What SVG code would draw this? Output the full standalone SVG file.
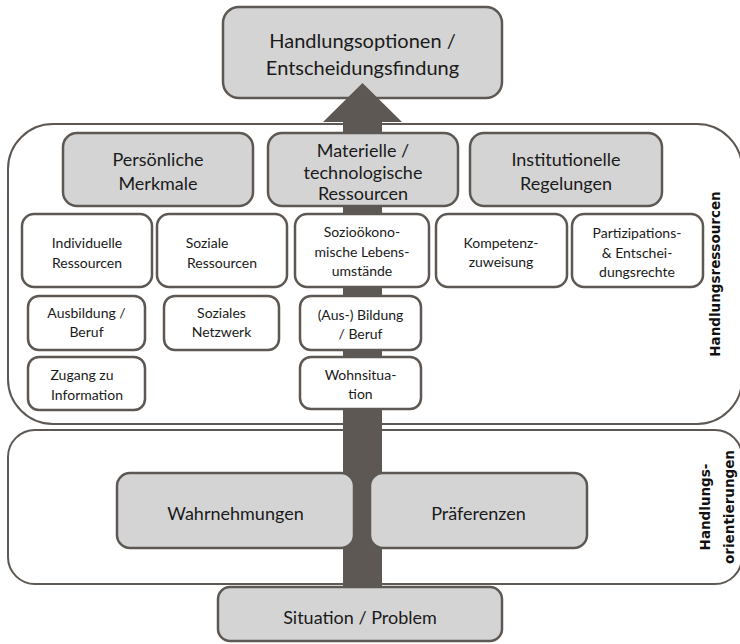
<svg xmlns="http://www.w3.org/2000/svg" width="740" height="644" viewBox="0 0 740 644">
<style>
.outer{fill:#ffffff;stroke:#5d5853;stroke-width:2}
.hdr{fill:#d4d4d4;stroke:#5d5853;stroke-width:2.5}
.sm{fill:#ffffff;stroke:#5d5853;stroke-width:2.5}
text{font-family:Lato,"Liberation Sans",sans-serif;fill:#1a1a1a;text-anchor:middle}
.t20{font-size:20px}
.t18{font-size:18px}
.t14{font-size:14px}
.side{font-family:"DejaVu Sans",sans-serif;font-weight:bold;font-size:13.5px;fill:#111}
.arrow{fill:#5d5853}
</style>
<rect width="740" height="644" fill="#ffffff"/>
<g id="handlungsressourcen">
<rect class="outer" x="8" y="124" width="734" height="300" rx="45" ry="45"/>
<text class="side" transform="translate(720,274) rotate(-90)">Handlungsressourcen</text>
</g>
<g id="handlungsorientierungen">
<rect class="outer" x="8" y="430" width="734" height="154" rx="27" ry="27"/>
<text class="side" transform="translate(710,507) rotate(-90)">Handlungs-</text>
<text class="side" transform="translate(734,507) rotate(-90)">orientierungen</text>
</g>
<g id="handlungsoptionen">
<rect class="hdr" x="223" y="7" width="279" height="91" rx="16" ry="16"/>
<text class="t20" x="362.5" y="48">Handlungsoptionen /</text>
<text class="t20" x="362.5" y="75">Entscheidungsfindung</text>
</g>
<g id="connectors">
<path class="arrow" d="M362.5,83 L402,122 L382,122 L382,587 L343,587 L343,122 L323,122 Z"/>
</g>
<g id="materielle">
<rect class="hdr" x="268" y="133" width="190" height="73" rx="14" ry="14"/>
<text class="t18" x="363" y="157">Materielle /</text>
<text class="t18" x="363" y="178.5">technologische</text>
<text class="t18" x="363" y="200">Ressourcen</text>
</g>
<g id="persoenliche">
<rect class="hdr" x="63" y="133" width="190" height="73" rx="14" ry="14"/>
<text class="t18" x="158" y="165.5">Persönliche</text>
<text class="t18" x="158" y="190">Merkmale</text>
</g>
<g id="institutionelle">
<rect class="hdr" x="470" y="133" width="192" height="73" rx="14" ry="14"/>
<text class="t18" x="566" y="165.5">Institutionelle</text>
<text class="t18" x="566" y="190">Regelungen</text>
</g>
<g id="individuelle">
<rect class="sm" x="22" y="214" width="130" height="73" rx="12" ry="12"/>
<text class="t14" x="87" y="248">Individuelle</text>
<text class="t14" x="87" y="268">Ressourcen</text>
</g>
<g id="soziale">
<rect class="sm" x="157" y="214" width="130" height="73" rx="12" ry="12"/>
<text class="t14" x="207" y="248">Soziale</text>
<text class="t14" x="222" y="268">Ressourcen</text>
</g>
<g id="soziooekonomische">
<rect class="sm" x="295" y="214" width="134" height="73" rx="12" ry="12"/>
<text class="t14" x="362" y="237">Sozioökono-</text>
<text class="t14" x="362" y="257">mische Lebens-</text>
<text class="t14" x="362" y="276">umstände</text>
</g>
<g id="kompetenz">
<rect class="sm" x="436" y="214" width="131" height="73" rx="12" ry="12"/>
<text class="t14" x="501" y="248">Kompetenz-</text>
<text class="t14" x="501" y="267">zuweisung</text>
</g>
<g id="partizipation">
<rect class="sm" x="572" y="214" width="131" height="73" rx="12" ry="12"/>
<text class="t14" x="637" y="238">Partizipations-</text>
<text class="t14" x="637" y="258">&amp; Entschei-</text>
<text class="t14" x="637" y="277">dungsrechte</text>
</g>
<g id="ausbildung">
<rect class="sm" x="28" y="296" width="117" height="54" rx="11" ry="11"/>
<text class="t14" x="86.5" y="318">Ausbildung /</text>
<text class="t14" x="86.5" y="337">Beruf</text>
</g>
<g id="netzwerk">
<rect class="sm" x="164" y="296" width="115" height="54" rx="11" ry="11"/>
<text class="t14" x="221.5" y="318">Soziales</text>
<text class="t14" x="221.5" y="337">Netzwerk</text>
</g>
<g id="bildung">
<rect class="sm" x="300" y="296" width="121" height="54" rx="11" ry="11"/>
<text class="t14" x="360.5" y="320">(Aus-) Bildung</text>
<text class="t14" x="360.5" y="339">/ Beruf</text>
</g>
<g id="zugang">
<rect class="sm" x="28" y="357" width="117" height="53" rx="11" ry="11"/>
<text class="t14" x="82" y="380">Zugang zu</text>
<text class="t14" x="87" y="400">Information</text>
</g>
<g id="wohnsituation">
<rect class="sm" x="300" y="357" width="121" height="52" rx="11" ry="11"/>
<text class="t14" x="360.5" y="380">Wohnsitua-</text>
<text class="t14" x="360.5" y="399">tion</text>
</g>
<g id="wahrnehmungen">
<rect class="hdr" x="117" y="473" width="237" height="75" rx="13" ry="13"/>
<text class="t18" x="235.5" y="520">Wahrnehmungen</text>
</g>
<g id="praeferenzen">
<rect class="hdr" x="370" y="473" width="217" height="75" rx="13" ry="13"/>
<text class="t18" x="478.5" y="520">Präferenzen</text>
</g>
<g id="situation">
<rect class="hdr" x="218" y="587" width="284" height="54" rx="12" ry="12"/>
<text class="t18" x="360" y="624">Situation / Problem</text>
</g>
</svg>
